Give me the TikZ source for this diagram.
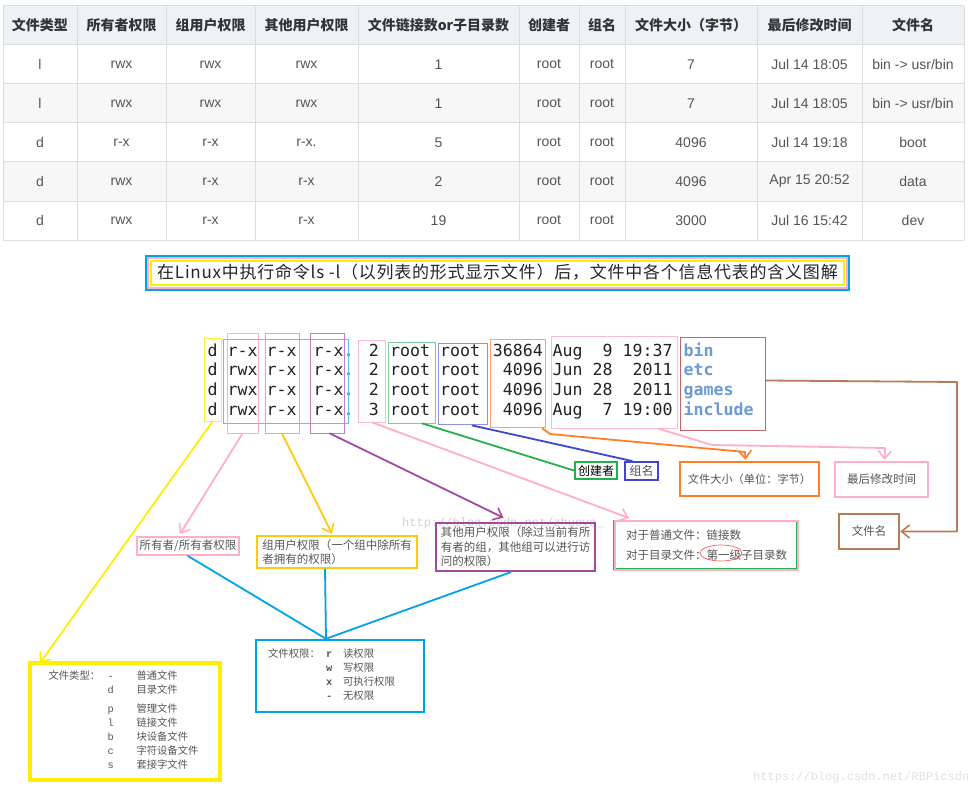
\documentclass[tikz,border=0pt]{standalone}
\usepackage{fontspec}
\setmainfont{Liberation Sans}
\newfontfamily\cjk{Noto Sans CJK SC}
\newfontfamily\cjkwide[LetterSpace=4.5]{Noto Sans CJK SC}
\newfontfamily\lsmono{DejaVu Sans Mono}
\newfontfamily\wmono{Liberation Mono}
\usetikzlibrary{arrows.meta,calc,shapes.geometric}
\definecolor{tgrid}{HTML}{DDDDDD}
\definecolor{thead}{HTML}{EFF2F5}
\definecolor{talt}{HTML}{F7F7F7}
\definecolor{ttext}{HTML}{555555}
\definecolor{thtext}{HTML}{333333}
\definecolor{pyellow}{HTML}{FFEE00}
\definecolor{ppink}{HTML}{FFAEC9}
\definecolor{pgold}{HTML}{FFC90E}
\definecolor{ppurple}{HTML}{A349A4}
\definecolor{pgreen}{HTML}{22B14C}
\definecolor{pblue}{HTML}{3F48CC}
\definecolor{porange}{HTML}{FF7F27}
\definecolor{pbrown}{HTML}{B97A57}
\definecolor{pcyan}{HTML}{00A2E8}
\definecolor{pdred}{HTML}{C0666A}
\definecolor{fname}{HTML}{6C9BD2}
\definecolor{lstext}{HTML}{222222}
\definecolor{lbtext}{HTML}{555555}
\begin{document}
\begin{tikzpicture}[x=1pt,y=-1pt,
  hdr/.style={font=\cjk\bfseries\fontsize{14}{16}\selectfont, text=thtext, inner sep=0},
  cell/.style={font=\fontsize{14}{16}\selectfont, text=ttext, inner sep=0},
  ls/.style={font=\lsmono\fontsize{16.6}{20}\selectfont, text=lstext, inner sep=0, anchor=base west},
  lsr/.style={ls, anchor=base east},
  lsname/.style={ls, font=\lsmono\bfseries\fontsize{16.6}{20}\selectfont, text=fname},
  colbox/.style={draw, line width=1, inner sep=0, rectangle},
  lbox/.style={draw, rectangle, inner sep=0, text=lbtext, font=\cjk\fontsize{11.5}{14.5}\selectfont, align=left},
  conn/.style={line width=1.8, line cap=round, line join=round},
  tip/.style={-{Straight Barb[length=8pt,width=13pt,line width=1.6pt]}},
  wm/.style={font=\wmono\fontsize{12}{14}\selectfont, inner sep=0, anchor=base west}
]
\useasboundingbox (0,0) rectangle (975,789);
\fill[white] (0,0) rectangle (975,789);

% ---------- table ----------
\fill[thead] (3,6) rectangle (964,45);
\fill[talt] (3,84) rectangle (964,123);
\fill[talt] (3,162) rectangle (964,201);
\foreach \yy in {6,45,84,123,162,201,240} \draw[tgrid, line width=1] (3,\yy) -- (964,\yy);
\foreach \xx in {3,77,166,255,358,519,579,625,757,862,964} \draw[tgrid, line width=1] (\xx,6) -- (\xx,240);
\foreach \x/\t [count=\i] in {40/文件类型,121.5/所有者权限,210.5/组用户权限,306.5/其他用户权限,438.5/文件链接数or子目录数,549/创建者,602/组名,691/文件大小（字节）,809.5/最后修改时间,913/文件名}
  \node[hdr] (h\i) at (\x,25.5) {\t};
\foreach \row [count=\r] in {{l,rwx,rwx,rwx,1,root,root,7,Jul 14 18:05,bin -> usr/bin},{l,rwx,rwx,rwx,1,root,root,7,Jul 14 18:05,bin -> usr/bin},{d,r-x,r-x,r-x.,5,root,root,4096,Jul 14 19:18,boot},{d,rwx,r-x,r-x,2,root,root,4096,Apr 15 20:52,data},{d,rwx,r-x,r-x,19,root,root,3000,Jul 16 15:42,dev}}
{
  \foreach \v [count=\c] in \row {
    \pgfmathsetmacro{\cx}{{40,121.5,210.5,306.5,438.5,549,602,691,809.5,913}[\c-1]}
    \node[cell] (c\r-\c) at (\cx,{64.5+39*(\r-1)}) {\v};
  }
}

% ---------- banner ----------
\node[draw=pcyan, line width=2, minimum width=703, minimum height=34, inner sep=0] (banner) at (497.5,272.5) {};
\draw[ppink, line width=2] ($(banner.north west)+(3,3)$) rectangle ($(banner.south east)+(-3,-3)$);
\draw[pyellow, line width=2] ($(banner.north west)+(6,6)$) rectangle ($(banner.south east)+(-6,-6)$);
\node[font=\cjkwide\fontsize{17}{19}\selectfont, text=black!85, inner sep=0] (btitle) at (497.5,272) {在Linux中执行命令ls -l（以列表的形式显示文件）后，文件中各个信息代表的含义图解};

% ---------- watermarks ----------
\node[wm, text=black!18] (wm1) at (402,526) {http://blog.csdn.net/zhuoya\_};
\node[wm, text=black!12] (wm2) at (753,780) {https://blog.csdn.net/RBPicsdn};

% ---------- listing ----------
\foreach \t [count=\r] in {d,d,d,d} \node[ls] (ty\r) at (207.5,{356+19.7*(\r-1)}) {\t};
\foreach \t [count=\r] in {r-x,rwx,rwx,rwx} \node[ls] (ow\r) at (227.5,{356+19.7*(\r-1)}) {\t};
\foreach \t [count=\r] in {r-x,r-x,r-x,r-x} \node[ls] (gr\r) at (266.5,{356+19.7*(\r-1)}) {\t};
\foreach \t [count=\r] in {r-x.,r-x.,r-x.,r-x.} \node[ls] (ot\r) at (313.5,{356+19.7*(\r-1)}) {\t};
\foreach \t [count=\r] in {2,2,2,3} \node[lsr] (lk\r) at (379,{356+19.7*(\r-1)}) {\t};
\foreach \t [count=\r] in {root,root,root,root} \node[ls] (us\r) at (390,{356+19.7*(\r-1)}) {\t};
\foreach \t [count=\r] in {root,root,root,root} \node[ls] (gn\r) at (440,{356+19.7*(\r-1)}) {\t};
\foreach \t [count=\r] in {36864,4096,4096,4096} \node[lsr] (sz\r) at (543,{356+19.7*(\r-1)}) {\t};
\foreach \t [count=\r] in {Aug~~9 19:37,Jun 28~~2011,Jun 28~~2011,Aug~~7 19:00} \node[ls] (dt\r) at (552.5,{356+19.7*(\r-1)}) {\t};
\foreach \t [count=\r] in {bin,etc,games,include} \node[lsname] (nm\r) at (683.5,{356+19.7*(\r-1)}) {\t};

% ---------- column boxes ----------
\node[colbox, draw=pyellow!85, minimum width=17, minimum height=83] (bType) at (212.5,379.5) {};
\node[colbox, draw=pcyan!65, minimum width=125, minimum height=84] (bAll) at (285.5,381) {};
\node[colbox, draw=ppink, minimum width=31, minimum height=100] (bOwn) at (242.5,383) {};
\node[colbox, draw=porange!70, minimum width=34, minimum height=100] (bGrp) at (282,383) {};
\node[colbox, draw=ppurple!70, minimum width=34, minimum height=100] (bOth) at (327,383) {};
\node[colbox, draw=ppink!85, minimum width=27, minimum height=82] (bLink) at (371.5,381) {};
\node[colbox, draw=pgreen!60, minimum width=47, minimum height=81] (bCre) at (411.5,382.5) {};
\node[colbox, draw=pblue!60, minimum width=49, minimum height=81] (bGrpN) at (462.5,383.5) {};
\node[colbox, draw=porange!70, minimum width=55, minimum height=88] (bSize) at (517.5,383) {};
\node[colbox, draw=ppink!85, minimum width=126, minimum height=92] (bDate) at (614,382) {};
\node[colbox, draw=pdred, minimum width=85, minimum height=93] (bName) at (722.5,383.5) {};

% ---------- label boxes ----------
\node[lbox, draw=pyellow, line width=4, minimum width=190, minimum height=117, font=\cjk\fontsize{10.3}{14}\selectfont] (lType) at (125,721.5) {%
\begin{tabular}{@{}p{59pt}@{}p{29pt}@{}l@{\hspace{3pt}}}
文件类型： & {\wmono -} & 普通文件\\
 & {\wmono d} & 目录文件\\[5pt]
 & {\wmono p} & 管理文件\\
 & {\wmono l} & 链接文件\\
 & {\wmono b} & 块设备文件\\
 & {\wmono c} & 字符设备文件\\
 & {\wmono s} & 套接字文件
\end{tabular}};
\node[lbox, draw=ppink, line width=2, minimum width=102, minimum height=18] (lOwn) at (188,546) {所有者/所有者权限};
\node[lbox, draw=pgold, line width=2.5, minimum width=160, minimum height=32] (lGrp) at (337,552) {组用户权限（一个组中除所有\\者拥有的权限）};
\node[lbox, draw=ppurple, line width=2.5, minimum width=159, minimum height=48] (lOth) at (515.5,547) {其他用户权限（除过当前有所\\有者的组，其他组可以进行访\\问的权限）};
\draw[pgreen, line width=2] (614,521) rectangle (797,569);
\node[lbox, draw=ppink, line width=2, minimum width=183, minimum height=49, font=\cjk\fontsize{11.5}{20}\selectfont] (lLink) at (706.5,545.5) {对于普通文件：链接数\\对于目录文件：第一级子目录数};
\node[draw=red!65, line width=0.7, ellipse, minimum width=42, minimum height=16, inner sep=0] (circ) at (721,553) {};
\node[lbox, draw=pgreen, line width=2, minimum width=42, minimum height=17, text=black, font=\cjk\fontsize{12}{14}\selectfont] (lCre) at (596,470.5) {创建者};
\node[lbox, draw=pblue, line width=2, minimum width=33, minimum height=18, font=\cjk\fontsize{12}{14}\selectfont] (lGrpN) at (641.5,471) {组名};
\node[lbox, draw=porange, line width=2.5, minimum width=139, minimum height=34, font=\cjk\fontsize{11.2}{14}\selectfont] (lSize) at (749.5,479) {文件大小（单位：字节）};
\node[lbox, draw=ppink, line width=2, minimum width=93, minimum height=35] (lTime) at (881.5,479.5) {最后修改时间};
\node[lbox, draw=pbrown, line width=2.5, minimum width=60, minimum height=35] (lName) at (869,531.5) {文件名};
\node[lbox, draw=pcyan, line width=2.5, minimum width=168, minimum height=72, font=\cjk\fontsize{10.4}{14}\selectfont] (lPerm) at (340,676) {%
\begin{tabular}{@{}p{58pt}@{}p{17pt}@{}l@{\hspace{17pt}}}
文件权限： & {\wmono\bfseries r} & 读权限\\
 & {\wmono\bfseries w} & 写权限\\
 & {\wmono\bfseries x} & 可执行权限\\
 & {\wmono\bfseries -} & 无权限
\end{tabular}};

% ---------- connectors ----------
\draw[conn, tip, pyellow] (bType.south) -- ($(lType.north west)+(12,2)$);
\draw[conn, tip, ppink] (bOwn.south) -- ($(lOwn.north)+(-8,-2)$);
\draw[conn, tip, pgold] (bGrp.south) -- ($(lGrp.north)+(-5,-1)$);
\draw[conn, tip, ppurple] ($(bOth.south)+(3,0)$) -- ($(lOth.north)+(-12,-4)$);
\draw[conn, tip, ppink] ($(bLink.south)+(1,0)$) -- ($(lLink.north west)+(15,-2)$);
\draw[conn, pgreen] ($(bCre.south)+(11,0)$) -- (lCre.west);
\draw[conn, pblue] ($(bGrpN.south)+(10,1)$) -- ($(lGrpN.north west)+(8,0)$);
\draw[conn, tip, porange] ($(bSize.south east)+(-3,1)$) -- (550,434) -- (745,452) -- ($(lSize.north)+(-4,-1)$);
\draw[conn, tip, ppink] ($(bDate.south)+(44,0)$) -- (712,445) -- (885,448) -- ($(lTime.north)+(3,-1)$);
\draw[conn, tip, pbrown] ($(bName.east)+(0,-3)$) -- (957,382) |- (lName.east);
\coordinate (pT) at ($(lPerm.north)+(-14,0)$);
\draw[conn, pcyan] (lOwn.south) -- (pT);
\draw[conn, pcyan] ($(lGrp.south)+(-12,0)$) -- (pT);
\draw[conn, pcyan] ($(lOth.south)+(-5,0)$) -- (pT);
\end{tikzpicture}
\end{document}
